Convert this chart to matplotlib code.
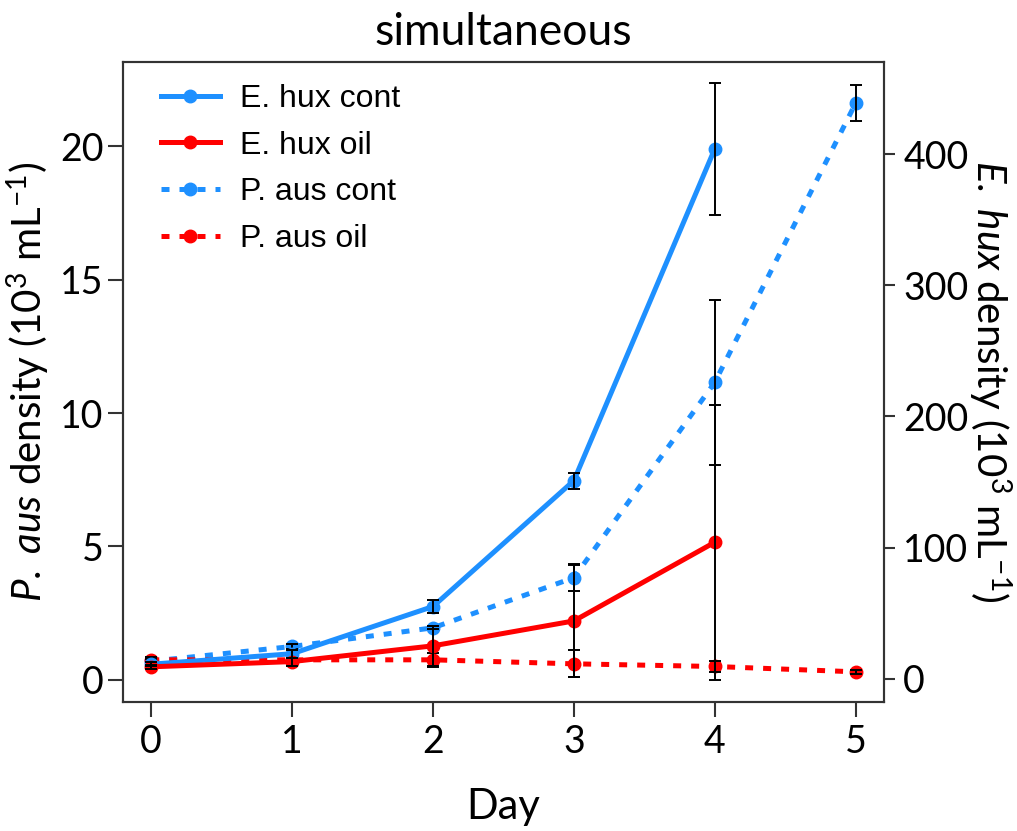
import matplotlib
matplotlib.use("Agg")
import matplotlib.pyplot as plt

plt.rcParams['font.family'] = ['Lato', 'DejaVu Sans']
plt.rcParams['mathtext.fontset'] = 'custom'
plt.rcParams['mathtext.rm'] = 'Lato'
plt.rcParams['mathtext.it'] = 'Lato:italic'

# sampling days
days = [0, 1, 2, 3, 4, 5]
days_ehux = [0, 1, 2, 3, 4]

# E. hux density (10^3 mL^-1), right axis
ehux_cont = [11, 19, 55, 151, 404]
ehux_cont_err = [1.5, 3, 5, 6, 50]
ehux_oil = [9, 13, 25, 44, 104]
ehux_oil_err = [1.5, 3, 15, 43, 105]

# P. aus density (10^3 mL^-1), left axis
paus_cont = [0.7, 1.25, 1.95, 3.83, 11.15, 21.62]
paus_cont_err = [0.08, 0.1, 0.05, 0.5, 3.1, 0.67]
paus_oil = [0.75, 0.75, 0.75, 0.6, 0.5, 0.3]
paus_oil_err = [0.1, 0.1, 0.26, 0.5, 0.2, 0.08]

blue = '#1E90FF'
red = '#FF0000'

fig = plt.figure(figsize=(10.17, 8.31), dpi=100)
ax = fig.add_axes([0.121, 0.1556, 0.748, 0.7702])
ax2 = ax.twinx()

lw = 3.6
ms = 9
dash = (1.6, 2.0)
eb = dict(fmt='none', ecolor='black', elinewidth=1.4, capsize=4, capthick=1.4, zorder=5)

# P. aus on the left axis
l3, = ax.plot(days, paus_cont, color=blue, lw=lw, ls=(0, dash), marker='o', ms=ms,
              label='P. aus cont')
l4, = ax.plot(days, paus_oil, color=red, lw=lw, ls=(0, dash), marker='o', ms=ms,
              label='P. aus oil')
ax.errorbar(days, paus_cont, yerr=paus_cont_err, **eb)
ax.errorbar(days, paus_oil, yerr=paus_oil_err, **eb)

# E. hux on the right axis
l1, = ax2.plot(days_ehux, ehux_cont, color=blue, lw=lw, marker='o', ms=ms,
               label='E. hux cont')
l2, = ax2.plot(days_ehux, ehux_oil, color=red, lw=lw, marker='o', ms=ms,
               label='E. hux oil')
ax2.errorbar(days_ehux, ehux_cont, yerr=ehux_cont_err, **eb)
ax2.errorbar(days_ehux, ehux_oil, yerr=ehux_oil_err, **eb)

ax.set_xlim(-0.2, 5.2)
ax.set_ylim(-0.82, 23.18)
ax2.set_ylim(-17.6, 470.6)
ax.set_xticks(days)
ax.set_yticks([0, 5, 10, 15, 20])
ax2.set_yticks([0, 100, 200, 300, 400])

for a in (ax, ax2):
    for s in a.spines.values():
        s.set_color('#333333')
        s.set_linewidth(1.5)
ax.tick_params(axis='both', labelsize=27, length=11, width=1.5, color='#333333')
ax.tick_params(axis='y', pad=3)
ax.tick_params(axis='x', pad=5)
ax2.tick_params(axis='y', labelsize=27, length=8, width=1.5, color='#333333', pad=6)

ax.set_xlabel('Day', fontsize=30, labelpad=20)
ax.set_ylabel(r'$\mathit{P.}$ $\mathit{aus}$ density (10$^{3}$ mL$^{-1}$)', fontsize=29, labelpad=6)
ax2.set_ylabel(r'$\mathit{E.}$ $\mathit{hux}$ density (10$^{3}$ mL$^{-1}$)', fontsize=29,
               rotation=270, labelpad=32)
ax.set_title('simultaneous', fontsize=32, pad=12)

leg = ax2.legend(handles=[l1, l2, l3, l4], loc='upper left', frameon=False,
                 prop={'family': 'Liberation Sans', 'size': 23},
                 handlelength=1.85, handletextpad=0.65, labelspacing=0.52,
                 borderaxespad=0.3, bbox_to_anchor=(0.02, 1.0))
leg.set_zorder(10)

fig.savefig('out.png', dpi=100)
